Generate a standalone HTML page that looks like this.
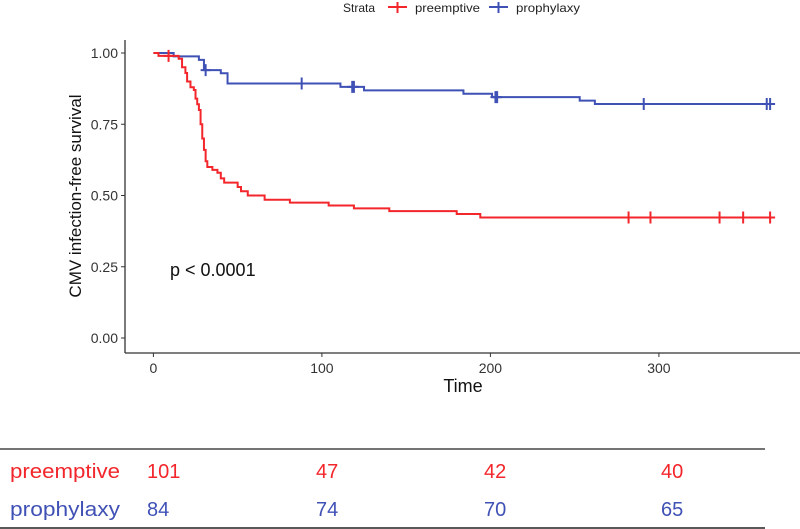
<!DOCTYPE html>
<html><head><meta charset="utf-8"><style>
html,body{margin:0;padding:0;background:#fff;}
body{width:800px;height:529px;overflow:hidden;position:relative;font-family:"Liberation Sans",sans-serif;}
svg{position:absolute;left:0;top:0;}
</style></head><body>
<svg id="chart" width="800" height="529">
<g id="legend">
 <text x="343" y="12" font-size="12" fill="#222">Strata</text>
 <g>
  <line x1="388" y1="7" x2="407" y2="7" stroke="#f2262b" stroke-width="2"/><line x1="397.5" y1="2" x2="397.5" y2="13" stroke="#f2262b" stroke-width="2"/>
  <text x="415" y="12" font-size="12" fill="#222" textLength="65" lengthAdjust="spacingAndGlyphs">preemptive</text></g>
 <g>
  <line x1="489" y1="7" x2="508" y2="7" stroke="#3f51b5" stroke-width="2"/><line x1="498.5" y1="2" x2="498.5" y2="13" stroke="#3f51b5" stroke-width="2"/>
  <text x="516" y="12" font-size="12" fill="#222" textLength="64" lengthAdjust="spacingAndGlyphs">prophylaxy</text></g>
</g>
<line x1="125" y1="40" x2="125" y2="353" stroke="#333" stroke-width="1.3"/>
<line x1="125" y1="353" x2="800" y2="353" stroke="#333" stroke-width="1.3"/>
<g id="yticks"></g><g id="xticks"></g>
<text x="0" y="0" font-size="17" fill="#111" text-anchor="middle" transform="translate(81,196) rotate(-90)">CMV infection-free survival</text>
<text x="463" y="392" font-size="18" fill="#111" text-anchor="middle">Time</text>
<text x="170" y="276" font-size="18" fill="#111">p &lt; 0.0001</text>
<g id="curves"></g>
<line x1="0" y1="449" x2="765" y2="449" stroke="#222" stroke-width="1.3"/>
<line x1="0" y1="528" x2="765" y2="528" stroke="#222" stroke-width="1.5"/>
<g id="table"></g>
</svg>
<script>
const strata = ["preemptive","prophylaxy"];
const colors = ["#f2262b","#3f51b5"];
const yTicks = [0,0.25,0.5,0.75,1];
const xTicks = [0,100,200,300];
const preTimes = [0,3,15,17,19,20,22,24,25,26,27,28,29,30,31,32,35,38,40,42,50,52,56,66,81,104,119,140,180,194,366];
const preSurv  = [1,0.99,0.98,0.95,0.93,0.90,0.88,0.87,0.84,0.82,0.80,0.75,0.70,0.66,0.62,0.60,0.59,0.58,0.56,0.545,0.53,0.515,0.50,0.485,0.475,0.465,0.455,0.445,0.435,0.423,0.423];
const proTimes = [0,12,27,30,40,44,111,125,184,201,253,262,366];
const proSurv  = [1,0.988,0.976,0.94,0.929,0.893,0.881,0.869,0.857,0.845,0.833,0.821,0.821];
const preCens = [9,282,295,336,350,366];
const proCens = [31,88,118,119,203,204,291,364,366];
const riskTimes = [0,100,200,300];
const riskPre = [101,47,42,40];
const riskPro = [84,74,70,65];

const NS="http://www.w3.org/2000/svg";
const xS = t => 153.4 + t*1.685;
const yS = s => 338 - s*285;
function mk(tag, attrs, parent){const e=document.createElementNS(NS,tag);for(const k in attrs)e.setAttribute(k,attrs[k]);parent.appendChild(e);return e;}
const yt=document.getElementById('yticks');
yTicks.forEach(v=>{
 const l=mk('line',{x1:121,x2:125,y1:yS(v),y2:yS(v),stroke:'#333'},yt);
 
 
 const t=mk('text',{x:118,y:yS(v)+5,'font-size':14,'text-anchor':'end',fill:'#333'},yt);
 t.textContent=v.toFixed(2);
 
 
});
const xt=document.getElementById('xticks');
xTicks.forEach(v=>{
 const l=mk('line',{x1:xS(v),x2:xS(v),y1:353,y2:357,stroke:'#333'},xt);
 
 
 const t=mk('text',{x:xS(v),y:373,'font-size':14,'text-anchor':'middle',fill:'#333'},xt);
 t.textContent=v;
 
 
});
const cg=document.getElementById('curves');
function stepVal(times,surv,t){let s=surv[0];for(let i=0;i<times.length;i++){if(times[i]<=t)s=surv[i];}return s;}
function drawCurve(times,surv,cens,col,name){
 let d='M'+xS(times[0])+','+yS(surv[0]);
 for(let i=1;i<times.length;i++){d+=' H'+xS(times[i])+' V'+yS(surv[i]);}
 const p=mk('path',{d:d,fill:'none',stroke:col,'stroke-width':2},cg);
 
 
 cens.forEach(c=>{
  const x=xS(c),y=yS(stepVal(times,surv,c));
  const g=mk('path',{d:`M${x-5},${y} H${x+5} M${x},${y-6} V${y+6}`,stroke:col,'stroke-width':2,fill:'none'},cg);
  
  
 });
}
drawCurve(proTimes,proSurv,proCens,colors[1],'prophylaxy');
drawCurve(preTimes,preSurv,preCens,colors[0],'preemptive');
const tb=document.getElementById('table');
const numX=[147,316,484,661];
[[riskPre,478],[riskPro,516]].forEach((row,ri)=>{
 const lab=mk('text',{x:10,y:row[1],'font-size':20,fill:colors[ri],textLength:110,lengthAdjust:'spacingAndGlyphs'},tb);
 lab.textContent=strata[ri];
 
 
 row[0].forEach((v,i)=>{
  const t=mk('text',{x:numX[i],y:row[1],'font-size':20,fill:colors[ri]},tb);
  t.textContent=v;
  
  
 });
});
</script>
</body></html>
